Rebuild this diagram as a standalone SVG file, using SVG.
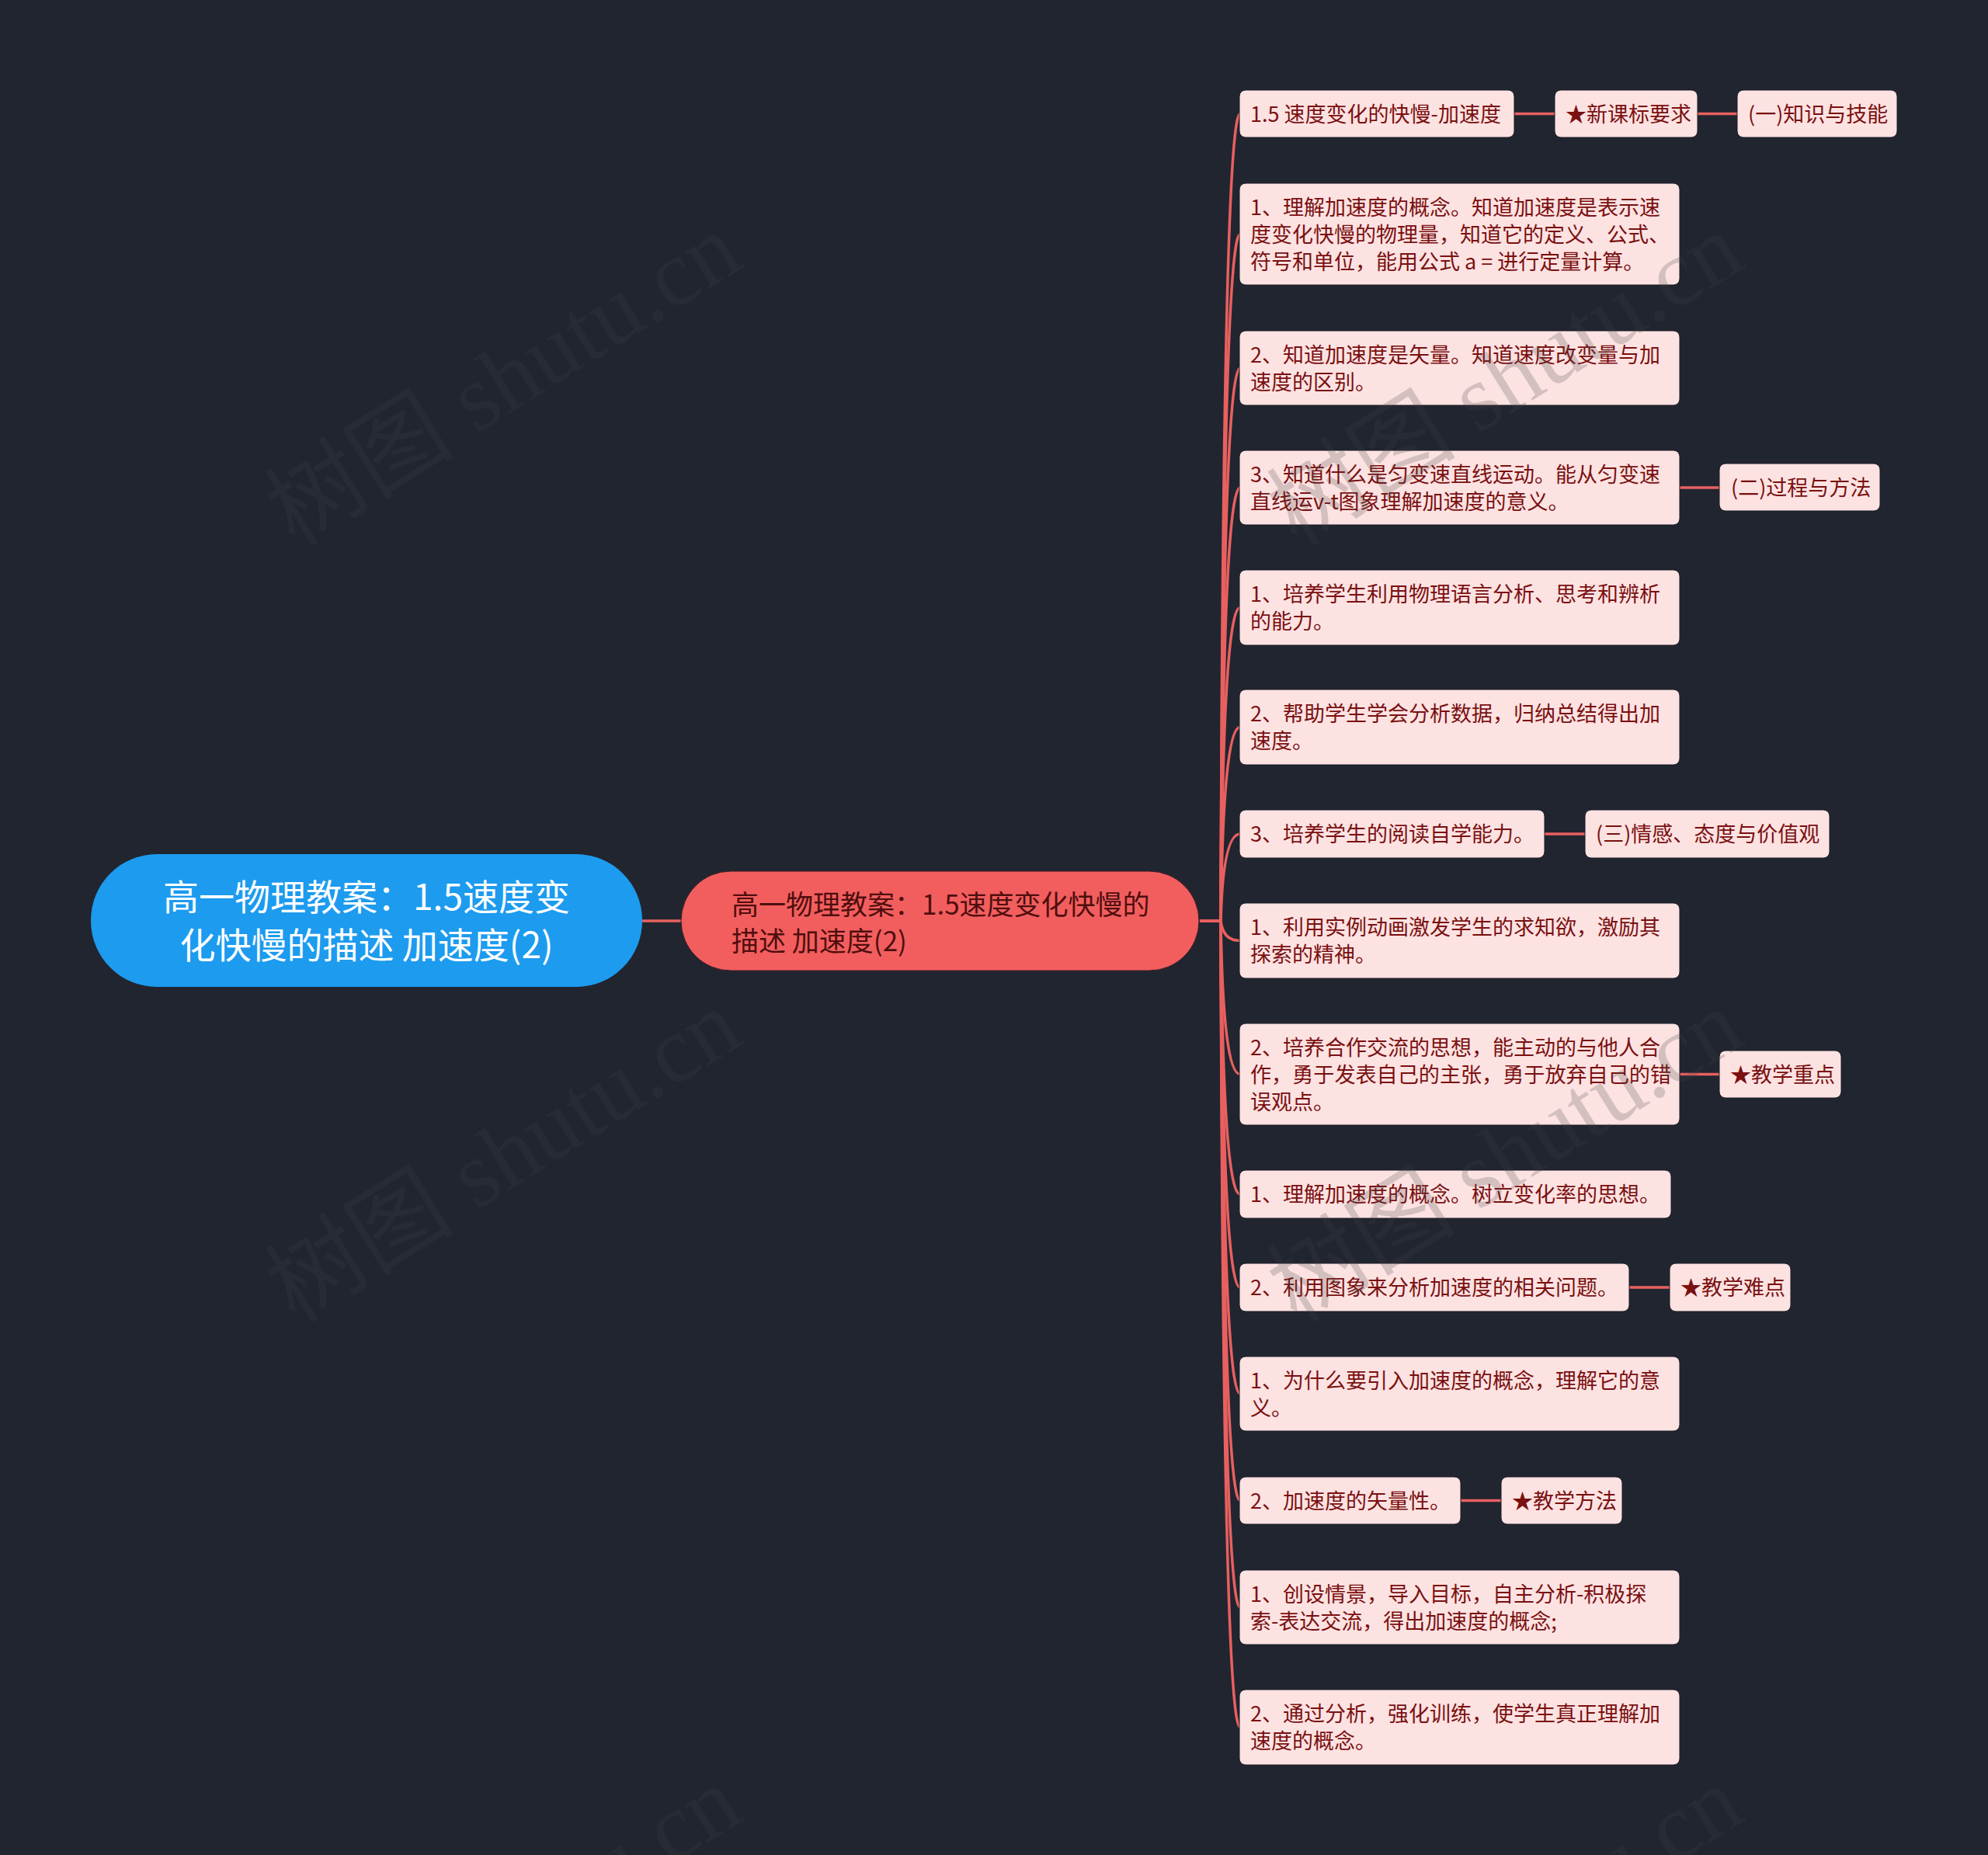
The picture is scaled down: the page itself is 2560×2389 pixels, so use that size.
<svg xmlns="http://www.w3.org/2000/svg" width="2560" height="2389" viewBox="0 0 2560 2389">
<style>
.bg{fill:#212530}
.wm{font-family:"Liberation Serif","Noto Sans CJK SC",serif;font-size:122px;fill:#464646;fill-opacity:0.22}
.leaf{fill:#FDE2E2;stroke:#1a1d25;stroke-width:1}
.t{font-family:"Noto Sans CJK SC","Noto Sans",sans-serif;font-size:27px;fill:#7A1010}
.root{fill:#1C9BEF}
.rt{font-family:"Noto Sans CJK SC","Noto Sans",sans-serif;font-size:46px;fill:#FFFFFF;text-anchor:middle}
.main{fill:#F25E5E;stroke:#3a1c22;stroke-width:1}
.mt{font-family:"Noto Sans CJK SC","Noto Sans",sans-serif;font-size:35px;fill:#4F0E0E}
.ln{fill:none;stroke:#E8605F;stroke-width:3.5}
</style>
<rect class="bg" x="0" y="0" width="2560" height="2389"/>
<g id="connectors">
<path class="ln" d="M827,1186 L877,1186"/>
<path class="ln" d="M1545,1186 L1572,1186 Q1575,146.5 1597,146.5"/>
<path class="ln" d="M1545,1186 L1572,1186 Q1575,301.5 1597,301.5"/>
<path class="ln" d="M1545,1186 L1572,1186 Q1575,474 1597,474"/>
<path class="ln" d="M1545,1186 L1572,1186 Q1575,628 1597,628"/>
<path class="ln" d="M1545,1186 L1572,1186 Q1575,782.5 1597,782.5"/>
<path class="ln" d="M1545,1186 L1572,1186 Q1575,936.5 1597,936.5"/>
<path class="ln" d="M1545,1186 L1572,1186 Q1575,1074 1597,1074"/>
<path class="ln" d="M1545,1186 L1572,1186 Q1575,1211.5 1597,1211.5"/>
<path class="ln" d="M1545,1186 L1572,1186 Q1575,1383.5 1597,1383.5"/>
<path class="ln" d="M1545,1186 L1572,1186 Q1575,1538 1597,1538"/>
<path class="ln" d="M1545,1186 L1572,1186 Q1575,1658 1597,1658"/>
<path class="ln" d="M1545,1186 L1572,1186 Q1575,1795 1597,1795"/>
<path class="ln" d="M1545,1186 L1572,1186 Q1575,1932.5 1597,1932.5"/>
<path class="ln" d="M1545,1186 L1572,1186 Q1575,2070 1597,2070"/>
<path class="ln" d="M1545,1186 L1572,1186 Q1575,2224.5 1597,2224.5"/>
<path class="ln" d="M1950,146.5 L2002,146.5"/>
<path class="ln" d="M2186,146.5 L2237,146.5"/>
<path class="ln" d="M2163,628 L2214,628"/>
<path class="ln" d="M1989,1074 L2041,1074"/>
<path class="ln" d="M2163,1383.5 L2214,1383.5"/>
<path class="ln" d="M2098,1658 L2150,1658"/>
<path class="ln" d="M1881,1932.5 L1933,1932.5"/>
</g>
<g id="root">
<rect class="root" x="117" y="1100" width="710" height="171" rx="85" ry="85"/>
<text class="rt" x="472" y="1172">高一物理教案：1.5速度变<tspan x="472" dy="62">化快慢的描述 加速度(2)</tspan></text>
</g>
<g id="main">
<rect class="main" x="877" y="1122" width="667" height="128" rx="64" ry="64"/>
<text class="mt" x="942" y="1178">高一物理教案：1.5速度变化快慢的<tspan x="942" dy="47">描述 加速度(2)</tspan></text>
</g>
<g id="n1">
<rect class="leaf" x="1596" y="116" width="354" height="61" rx="8"/>
<text class="t" x="1610" y="156.5">1.5 速度变化的快慢-加速度</text>
</g>
<g id="n1a">
<rect class="leaf" x="2002" y="116" width="184" height="61" rx="8"/>
<text class="t" x="2016" y="156.5">★新课标要求</text>
</g>
<g id="n1b">
<rect class="leaf" x="2237" y="116" width="206" height="61" rx="8"/>
<text class="t" x="2251" y="156.5">(一)知识与技能</text>
</g>
<g id="n2">
<rect class="leaf" x="1596" y="236" width="567" height="131" rx="8"/>
<text class="t" x="1610" y="276.5">1、理解加速度的概念。知道加速度是表示速<tspan x="1610" dy="35">度变化快慢的物理量，知道它的定义、公式、</tspan><tspan x="1610" dy="35">符号和单位，能用公式 a = 进行定量计算。</tspan></text>
</g>
<g id="n3">
<rect class="leaf" x="1596" y="426" width="567" height="96" rx="8"/>
<text class="t" x="1610" y="466.5">2、知道加速度是矢量。知道速度改变量与加<tspan x="1610" dy="35">速度的区别。</tspan></text>
</g>
<g id="n4">
<rect class="leaf" x="1596" y="580" width="567" height="96" rx="8"/>
<text class="t" x="1610" y="620.5">3、知道什么是匀变速直线运动。能从匀变速<tspan x="1610" dy="35">直线运v-t图象理解加速度的意义。</tspan></text>
</g>
<g id="n4a">
<rect class="leaf" x="2214" y="597" width="207" height="61" rx="8"/>
<text class="t" x="2229" y="637.5">(二)过程与方法</text>
</g>
<g id="n5">
<rect class="leaf" x="1596" y="734" width="567" height="97" rx="8"/>
<text class="t" x="1610" y="774.5">1、培养学生利用物理语言分析、思考和辨析<tspan x="1610" dy="35">的能力。</tspan></text>
</g>
<g id="n6">
<rect class="leaf" x="1596" y="888" width="567" height="97" rx="8"/>
<text class="t" x="1610" y="928.5">2、帮助学生学会分析数据，归纳总结得出加<tspan x="1610" dy="35">速度。</tspan></text>
</g>
<g id="n7">
<rect class="leaf" x="1596" y="1043" width="393" height="62" rx="8"/>
<text class="t" x="1610" y="1084">3、培养学生的阅读自学能力。</text>
</g>
<g id="n7a">
<rect class="leaf" x="2041" y="1043" width="315" height="62" rx="8"/>
<text class="t" x="2055" y="1084">(三)情感、态度与价值观</text>
</g>
<g id="n8">
<rect class="leaf" x="1596" y="1163" width="567" height="97" rx="8"/>
<text class="t" x="1610" y="1203.5">1、利用实例动画激发学生的求知欲，激励其<tspan x="1610" dy="35">探索的精神。</tspan></text>
</g>
<g id="n9">
<rect class="leaf" x="1596" y="1318" width="567" height="131" rx="8"/>
<text class="t" x="1610" y="1358.5">2、培养合作交流的思想，能主动的与他人合<tspan x="1610" dy="35" textLength="542" lengthAdjust="spacingAndGlyphs">作，勇于发表自己的主张，勇于放弃自己的错</tspan><tspan x="1610" dy="35">误观点。</tspan></text>
</g>
<g id="n9a">
<rect class="leaf" x="2214" y="1353" width="157" height="61" rx="8"/>
<text class="t" x="2228" y="1393.5">★教学重点</text>
</g>
<g id="n10">
<rect class="leaf" x="1596" y="1507" width="556" height="62" rx="8"/>
<text class="t" x="1610" y="1548">1、理解加速度的概念。树立变化率的思想。</text>
</g>
<g id="n11">
<rect class="leaf" x="1596" y="1627" width="502" height="62" rx="8"/>
<text class="t" x="1610" y="1668">2、利用图象来分析加速度的相关问题。</text>
</g>
<g id="n11a">
<rect class="leaf" x="2150" y="1627" width="156" height="62" rx="8"/>
<text class="t" x="2164" y="1668">★教学难点</text>
</g>
<g id="n12">
<rect class="leaf" x="1596" y="1747" width="567" height="96" rx="8"/>
<text class="t" x="1610" y="1787.5">1、为什么要引入加速度的概念，理解它的意<tspan x="1610" dy="35">义。</tspan></text>
</g>
<g id="n13">
<rect class="leaf" x="1596" y="1902" width="285" height="61" rx="8"/>
<text class="t" x="1610" y="1942.5">2、加速度的矢量性。</text>
</g>
<g id="n13a">
<rect class="leaf" x="1933" y="1902" width="156" height="61" rx="8"/>
<text class="t" x="1947" y="1942.5">★教学方法</text>
</g>
<g id="n14">
<rect class="leaf" x="1596" y="2022" width="567" height="96" rx="8"/>
<text class="t" x="1610" y="2062.5">1、创设情景，导入目标，自主分析-积极探<tspan x="1610" dy="35">索-表达交流，得出加速度的概念;</tspan></text>
</g>
<g id="n15">
<rect class="leaf" x="1596" y="2176" width="567" height="97" rx="8"/>
<text class="t" x="1610" y="2216.5">2、通过分析，强化训练，使学生真正理解加<tspan x="1610" dy="35">速度的概念。</tspan></text>
</g>
<g id="watermarks">
<text class="wm" x="380" y="705" transform="rotate(-32 380 705)">树图 shutu.cn</text>
<text class="wm" x="1670" y="705" transform="rotate(-32 1670 705)">树图 shutu.cn</text>
<text class="wm" x="380" y="1705" transform="rotate(-32 380 1705)">树图 shutu.cn</text>
<text class="wm" x="1670" y="1705" transform="rotate(-32 1670 1705)">树图 shutu.cn</text>
<text class="wm" x="380" y="2705" transform="rotate(-32 380 2705)">树图 shutu.cn</text>
<text class="wm" x="1670" y="2705" transform="rotate(-32 1670 2705)">树图 shutu.cn</text>
</g>
</svg>
